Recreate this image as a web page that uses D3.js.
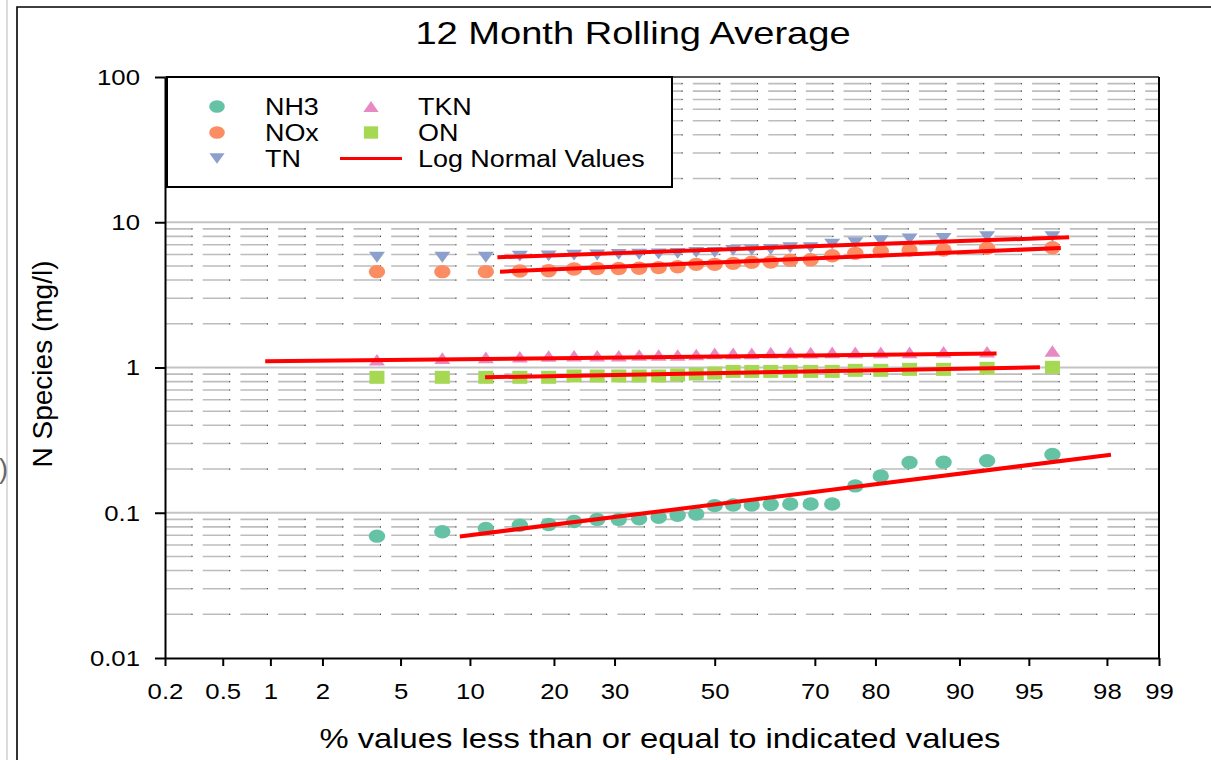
<!DOCTYPE html>
<html><head><meta charset="utf-8">
<script src="https://cdn.jsdelivr.net/npm/d3@7"></script>
<style>
html,body{margin:0;padding:0;background:#fff;}
svg{display:block;font-family:"Liberation Sans",Arial,sans-serif;}
</style></head>
<body>
<svg id="chart" width="1211" height="760"></svg>
<script>
// ---------- DATA ----------
const percentiles = [3.85, 7.69, 11.54, 15.38, 19.23, 23.08, 26.92, 30.77, 34.62, 38.46, 42.31, 46.15, 50.00,
  53.85, 57.69, 61.54, 65.38, 69.23, 73.08, 76.92, 80.77, 84.62, 88.46, 92.31, 96.15];
const nh3 = [0.069, 0.074, 0.078, 0.082, 0.083, 0.087, 0.090, 0.090, 0.091, 0.093, 0.096, 0.098, 0.112,
  0.113, 0.113, 0.114, 0.115, 0.115, 0.115, 0.153, 0.179, 0.222, 0.223, 0.228, 0.252];
const nox = [4.57, 4.57, 4.57, 4.62, 4.63, 4.77, 4.80, 4.80, 4.82, 4.87, 4.94, 5.13, 5.13,
  5.21, 5.30, 5.33, 5.47, 5.52, 5.88, 6.11, 6.31, 6.44, 6.44, 6.62, 6.68];
const tn = [5.74, 5.74, 5.74, 5.84, 5.86, 5.93, 5.95, 6.00, 6.02, 6.05, 6.11, 6.21, 6.21,
  6.40, 6.44, 6.51, 6.68, 6.68, 7.08, 7.23, 7.46, 7.67, 7.75, 7.95, 7.95];
const tkn = [1.13, 1.16, 1.175, 1.185, 1.20, 1.205, 1.205, 1.205, 1.22, 1.22, 1.22, 1.23, 1.25,
  1.25, 1.25, 1.265, 1.265, 1.265, 1.27, 1.27, 1.27, 1.27, 1.285, 1.285, 1.30];
const on = [0.856, 0.856, 0.856, 0.856, 0.856, 0.874, 0.874, 0.874, 0.874, 0.874, 0.888, 0.902, 0.916,
  0.94, 0.94, 0.94, 0.94, 0.94, 0.94, 0.956, 0.956, 0.971, 0.971, 0.987, 1.003];
// Log normal fit lines: [percent, value] endpoints
const lineNH3 = [[9.1, 0.0687], [98.1, 0.251]];
const lineNOx = [[13.05, 4.57], [96.5, 6.65]];
const lineTN  = [[12.76, 5.74], [96.83, 7.88]];
const lineTKN = [[0.93, 1.103], [93.0, 1.25]];
const lineON  = [[11.46, 0.856], [95.57, 1.003]];
const seriesNames = ["NH3", "NOx", "TN", "TKN", "ON"];
const lineLabel = "Log Normal Values";
const xTicks = [0.2, 0.5, 1, 2, 5, 10, 20, 30, 50, 70, 80, 90, 95, 98, 99];
const yTicks = [0.01, 0.1, 1, 10, 100];
const yTickLabels = ["0.01", "0.1", "1", "10", "100"];
const titleText = "12 Month Rolling Average";
const xTitle = "% values less than or equal to indicated values";
const yTitle = "N Species (mg/l)";

// ---------- helpers ----------
function probit(p){
  const a=[-3.969683028665376e+01,2.209460984245205e+02,-2.759285104469687e+02,1.383577518672690e+02,-3.066479806614716e+01,2.506628277459239e+00];
  const b=[-5.447609879822406e+01,1.615858368580409e+02,-1.556989798598866e+02,6.680131188771972e+01,-1.328068155288572e+01];
  const c=[-7.784894002430293e-03,-3.223964580411365e-01,-2.400758277161838e+00,-2.549732539343734e+00,4.374664141464968e+00,2.938163982698783e+00];
  const d=[7.784695709041462e-03,3.224671290700398e-01,2.445134137142996e+00,3.754408661907416e+00];
  const pl=0.02425, ph=1-pl; let q,r;
  if(p<pl){q=Math.sqrt(-2*Math.log(p));return (((((c[0]*q+c[1])*q+c[2])*q+c[3])*q+c[4])*q+c[5])/((((d[0]*q+d[1])*q+d[2])*q+d[3])*q+1);}
  if(p<=ph){q=p-0.5;r=q*q;return (((((a[0]*r+a[1])*r+a[2])*r+a[3])*r+a[4])*r+a[5])*q/(((((b[0]*r+b[1])*r+b[2])*r+b[3])*r+b[4])*r+1);}
  q=Math.sqrt(-2*Math.log(1-p));return -(((((c[0]*q+c[1])*q+c[2])*q+c[3])*q+c[4])*q+c[5])/((((d[0]*q+d[1])*q+d[2])*q+d[3])*q+1);
}

const svg = d3.select("#chart");
const L = 165, R = 1159, T = 77, B = 658;
const xz = d3.scaleLinear().domain([probit(0.002), probit(0.99)]).range([L, R]);
const x = p => xz(probit(p / 100));
const y = d3.scaleLog().domain([0.01, 100]).range([B, T]);

const colors = {NH3:"#66c2a5", NOx:"#fc8d62", TN:"#8da0cb", TKN:"#e78ac3", ON:"#a6d854"};

// page artifacts
svg.append("line").attr("x1",7).attr("x2",7).attr("y1",0).attr("y2",760).attr("stroke","#dcdcdc").attr("stroke-width",2);
svg.append("text").attr("x",-1).attr("y",478).attr("font-size",27).attr("fill","#666").text(")");
svg.append("path").attr("d","M17,760 L17,7 L1215,7").attr("fill","none").attr("stroke","#000").attr("stroke-width",1.6);

// title
svg.append("text").attr("transform","translate(633,44) scale(1.19,1)").attr("text-anchor","middle")
  .attr("font-size",32).attr("fill","#000").text(titleText);

// gridlines
const grid = svg.append("g");
const minorVals = [];
[0.01, 0.1, 1, 10].forEach(dec => { for (let k = 2; k <= 9; k++) minorVals.push(k * dec); });
grid.selectAll("line.minor").data(minorVals).enter().append("line")
  .attr("x1", L).attr("x2", R).attr("y1", d => y(d)).attr("y2", d => y(d))
  .attr("stroke", "#bdbdbd").attr("stroke-width", 1.6).attr("stroke-dasharray", "27.5 10.2");
grid.selectAll("line.dot").data(minorVals).enter().append("line")
  .attr("x1", L).attr("x2", R).attr("y1", d => y(d)).attr("y2", d => y(d))
  .attr("stroke", "#444").attr("stroke-width", 1.2).attr("stroke-dasharray", "1 36.7").attr("stroke-dashoffset", -26.5);
grid.selectAll("line.major").data([0.1, 1, 10]).enter().append("line")
  .attr("x1", L).attr("x2", R).attr("y1", d => y(d)).attr("y2", d => y(d))
  .attr("stroke", "#c4c4c4").attr("stroke-width", 2);

// markers
function drawMarkers(vals, name, shape){
  const g = svg.append("g").attr("fill", colors[name]);
  vals.forEach((v, i) => {
    const cx = x(percentiles[i]), cy = y(v);
    drawShape(g, shape, cx, cy, 1);
  });
}
function drawShape(g, shape, cx, cy, s){
  if (shape === "circle") g.append("ellipse").attr("cx",cx).attr("cy",cy).attr("rx",8.2*s).attr("ry",6.7*s);
  else if (shape === "down") g.append("path").attr("d",`M${cx-8*s},${cy-5.4*s}L${cx+8*s},${cy-5.4*s}L${cx},${cy+5.4*s}Z`);
  else if (shape === "up") g.append("path").attr("d",`M${cx-8*s},${cy+5.8*s}L${cx+8*s},${cy+5.8*s}L${cx},${cy-5.8*s}Z`);
  else if (shape === "square") g.append("rect").attr("x",cx-7.5*s).attr("y",cy-6.5*s).attr("width",15*s).attr("height",13*s);
}
drawMarkers(nh3, "NH3", "circle");
drawMarkers(nox, "NOx", "circle");
drawMarkers(tn, "TN", "down");
drawMarkers(tkn, "TKN", "up");
drawMarkers(on, "ON", "square");

// fit lines
const lineGen = d3.line().x(d => x(d[0])).y(d => y(d[1]));
[lineNH3, lineNOx, lineTN, lineTKN, lineON].forEach(ln => {
  svg.append("path").attr("d", lineGen(ln)).attr("fill","none").attr("stroke","#ff0000").attr("stroke-width",4);
});

// frame top/right
svg.append("line").attr("x1",L).attr("x2",R).attr("y1",T).attr("y2",T).attr("stroke","#222").attr("stroke-width",1.6);
svg.append("line").attr("x1",R).attr("x2",R).attr("y1",T).attr("y2",B).attr("stroke","#000").attr("stroke-width",2);

// axes
const xAxis = d3.axisBottom(xz).tickValues(xTicks.map(p => probit(p/100)))
  .tickFormat((d,i) => String(xTicks[i])).tickSize(8).tickSizeOuter(0).tickPadding(16.5);
const gx = svg.append("g").attr("transform",`translate(0,${B})`).call(xAxis);
gx.select(".domain").attr("stroke","#000").attr("stroke-width",2);
gx.selectAll(".tick line").attr("stroke","#000").attr("stroke-width",2);
gx.selectAll(".tick text").attr("font-size",23).attr("font-family","Liberation Sans, Arial, sans-serif")
  .attr("fill","#000").attr("transform","scale(1.12,1)");

const yAxis = d3.axisLeft(y).tickValues(yTicks).tickFormat((d,i) => yTickLabels[i])
  .tickSize(10).tickSizeOuter(0).tickPadding(15);
const gy = svg.append("g").attr("transform",`translate(${L},0)`).call(yAxis);
gy.select(".domain").attr("stroke","#000").attr("stroke-width",2);
gy.selectAll(".tick line").attr("stroke","#000").attr("stroke-width",2);
gy.selectAll(".tick text").each(function(){
  const t = d3.select(this);
  t.attr("transform",`translate(${t.attr("x")},0) scale(1.12,1)`).attr("x",0);
}).attr("font-size",23).attr("font-family","Liberation Sans, Arial, sans-serif").attr("fill","#000");

// axis titles
svg.append("text").attr("transform","translate(660,748) scale(1.17,1)").attr("text-anchor","middle")
  .attr("font-size",28).attr("fill","#000").text(xTitle);
svg.append("text").attr("transform","translate(52,364) rotate(-90)").attr("text-anchor","middle")
  .attr("font-size",28).attr("fill","#000").text(yTitle);

// legend
const lg = svg.append("g");
lg.append("rect").attr("x",167).attr("y",77).attr("width",505).attr("height",110)
  .attr("fill","#fff").attr("stroke","#000").attr("stroke-width",2);
const legendItems = [
  {name:"NH3", shape:"circle", col:0, row:0},
  {name:"NOx", shape:"circle", col:0, row:1},
  {name:"TN", shape:"down", col:0, row:2},
  {name:"TKN", shape:"up", col:1, row:0},
  {name:"ON", shape:"square", col:1, row:1}
];
const colSym = [217, 371], colTxt = [265, 418], rowY = [106.5, 132.5, 158.5];
legendItems.forEach(it => {
  const g = lg.append("g").attr("fill", colors[it.name]);
  drawShape(g, it.shape, colSym[it.col], rowY[it.row], 0.95);
  lg.append("text").attr("transform",`translate(${colTxt[it.col]},${rowY[it.row]+8.3}) scale(1.17,1)`)
    .attr("font-size",23).attr("fill","#000").text(it.name);
});
lg.append("line").attr("x1",340).attr("x2",402).attr("y1",rowY[2]).attr("y2",rowY[2]).attr("stroke","#ff0000").attr("stroke-width",3);
lg.append("text").attr("transform",`translate(${colTxt[1]},${rowY[2]+8.3}) scale(1.17,1)`)
  .attr("font-size",23).attr("fill","#000").text(lineLabel);
</script>
</body></html>
